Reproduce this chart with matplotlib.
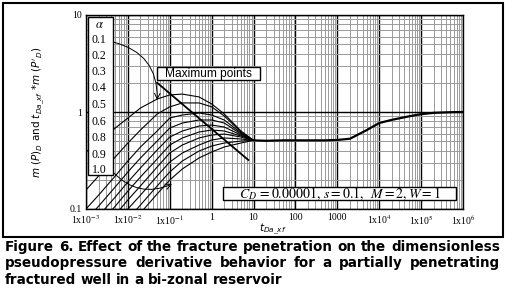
import numpy as np
import matplotlib.pyplot as plt
from matplotlib.patches import Rectangle
from matplotlib.ticker import LogLocator, NullFormatter

W, H = 506, 295  # output size in pixels

# early time grid shared by all the alpha curves
t_early = [1e-3, 2e-3, 5e-3, 1e-2, 2e-2, 5e-2, 0.1, 0.2, 0.5, 1, 2, 5, 10]

# dimensionless pseudopressure derivative, one list per fracture penetration (top to bottom)
d_a01 = [0.387, 0.491, 0.684, 0.867, 1.10, 1.36, 1.50, 1.53, 1.43, 1.21, 0.954, 0.637, 0.51]
d_a02 = [0.157, 0.219, 0.344, 0.479, 0.652, 0.954, 1.13, 1.24, 1.24, 1.13, 0.909, 0.622, 0.51]
d_a03 = [0.100, 0.139, 0.219, 0.313, 0.436, 0.637, 0.867, 0.931, 0.977, 0.931, 0.827, 0.607, 0.51]
d_a04 = [0.077, 0.107, 0.169, 0.241, 0.336, 0.502, 0.684, 0.770, 0.827, 0.827, 0.770, 0.593, 0.51]
d_a05 = [0.061, 0.0847, 0.133, 0.190, 0.265, 0.406, 0.552, 0.637, 0.717, 0.734, 0.700, 0.579, 0.51]
d_a06 = [0.048, 0.068, 0.107, 0.153, 0.214, 0.328, 0.457, 0.540, 0.622, 0.652, 0.637, 0.566, 0.51]
d_a07 = [0.0396, 0.0552, 0.0867, 0.124, 0.173, 0.271, 0.378, 0.457, 0.540, 0.579, 0.593, 0.552, 0.51]
d_a08 = [0.031, 0.044, 0.070, 0.100, 0.139, 0.219, 0.305, 0.378, 0.457, 0.514, 0.540, 0.527, 0.51]
d_a09 = [0.025, 0.035, 0.0552, 0.0788, 0.110, 0.173, 0.241, 0.313, 0.396, 0.446, 0.479, 0.502, 0.51]
d_a10 = [0.020, 0.028, 0.044, 0.0637, 0.091, 0.143, 0.199, 0.259, 0.336, 0.387, 0.436, 0.479, 0.51]
curves = [d_a01, d_a02, d_a03, d_a04, d_a05, d_a06, d_a07, d_a08, d_a09, d_a10]

# late time, all curves merged
t_late = [10, 20, 50, 100, 200, 500, 1000, 2000, 5000, 1e4, 2e4, 5e4, 1e5, 2e5, 5e5, 1e6]
d_late = [0.51, 0.505, 0.51, 0.51, 0.51, 0.51, 0.515, 0.53, 0.65, 0.77, 0.83, 0.90, 0.95, 0.98, 0.995, 1.0]

# straight line through the maximum points
max_t = [0.05, 7.5]
max_d = [2.0, 0.32]

alpha_labels = ['0.1', '0.2', '0.3', '0.4', '0.5', '0.6', '0.8', '0.9', '1.0']
x_ticks = [1e-3, 1e-2, 1e-1, 1, 10, 100, 1000, 1e4, 1e5, 1e6]
x_ticklabels = [r'1x10$^{-3}$', r'1x10$^{-2}$', r'1x10$^{-1}$', '1', '10', '100', '1000',
                r'1x10$^{4}$', r'1x10$^{5}$', r'1x10$^{6}$']
y_ticks = [0.1, 1, 10]
y_ticklabels = ['0.1', '1', '10']

caption = ["Figure 6. Effect of the fracture penetration on the dimensionless",
           "pseudopressure derivative behavior for a partially penetrating",
           "fractured well in a bi-zonal reservoir"]

plt.rcParams['mathtext.fontset'] = 'stix'

fig = plt.figure(figsize=(W / 100, H / 100), dpi=100)

def fx(px):
    return px / W

def fy(py):
    return 1 - py / H

ax = fig.add_axes([fx(86), fy(209), fx(463) - fx(86), fy(15) - fy(209)])
ax.set_xscale('log')
ax.set_yscale('log')
ax.set_xlim(1e-3, 1e6)
ax.set_ylim(0.1, 10)

ax.xaxis.set_minor_locator(LogLocator(base=10, subs=np.arange(2, 10), numticks=20))
ax.yaxis.set_minor_locator(LogLocator(base=10, subs=np.arange(2, 10), numticks=20))
ax.xaxis.set_minor_formatter(NullFormatter())
ax.yaxis.set_minor_formatter(NullFormatter())
ax.grid(which='minor', color='#9a9a9a', lw=0.7)
ax.grid(which='major', color='black', lw=1.0)
ax.set_axisbelow(True)

ax.set_xticks(x_ticks)
ax.set_xticklabels(x_ticklabels, fontfamily='Liberation Serif', fontsize=7)
ax.set_yticks(y_ticks)
ax.set_yticklabels(y_ticklabels, fontfamily='Liberation Serif', fontsize=7)
ax.tick_params(which='both', length=0, pad=3)
for s in ax.spines.values():
    s.set_linewidth(1.0)

for d in curves:
    ax.plot(t_early, d, color='black', lw=0.8)
ax.plot(t_late, d_late, color='black', lw=1.6)
ax.plot(max_t, max_d, color='black', lw=1.3)

# arrows from the alpha labels to their curves
ax.annotate('', xy=(0.05, 1.33), xytext=(0.0044, 5.27),
            arrowprops=dict(arrowstyle='->', color='black', lw=0.7,
                            connectionstyle='arc3,rad=-0.4', shrinkA=0, shrinkB=0))
ax.annotate('', xy=(0.113, 0.181), xytext=(0.0044, 0.24),
            arrowprops=dict(arrowstyle='->', color='black', lw=0.7,
                            connectionstyle='arc3,rad=0.35', shrinkA=0, shrinkB=0))

# alpha box
fig.add_artist(Rectangle((fx(88), fy(175)), fx(113) - fx(88), fy(17) - fy(175),
                         transform=fig.transFigure, facecolor='white',
                         edgecolor='black', lw=1.0, zorder=5))
fig.text(fx(99), fy(25), r'$\alpha$', fontsize=9, ha='center', va='center', zorder=6)
for lab, yy in zip(alpha_labels, [40, 56, 72, 88, 105, 122, 138, 155, 170]):
    fig.text(fx(99), fy(yy), lab, fontfamily='Liberation Serif', fontsize=8.5,
             ha='center', va='center', zorder=6)

# "Maximum points" box
fig.add_artist(Rectangle((fx(157), fy(80)), fx(260) - fx(157), fy(67) - fy(80),
                         transform=fig.transFigure, facecolor='white',
                         edgecolor='black', lw=1.0, zorder=5))
fig.text(fx(208.5), fy(73.5), 'Maximum points', fontfamily='Liberation Sans', fontsize=8.6,
         ha='center', va='center', zorder=6)

# parameter box
fig.add_artist(Rectangle((fx(223), fy(200)), fx(456) - fx(223), fy(187) - fy(200),
                         transform=fig.transFigure, facecolor='white',
                         edgecolor='black', lw=1.0, zorder=5))
fig.text(fx(339.5), fy(193.5), r'$C_D\,=0.00001,\,s=0.1,\;\;M=2,W=1$', fontsize=10,
         ha='center', va='center', zorder=6)

# axis labels
fig.text(fx(38), fy(112), r"$m\ (P)_D$ and $t_{Da\_xf}$ *$m\ (P'_D)$",
         math_fontfamily='dejavusans', fontsize=7.5, rotation=90, ha='center', va='center')
fig.text(fx(273), fy(229), r'$t_{Da\_xf}$', math_fontfamily='dejavusans', fontsize=7.5,
         ha='center', va='center')

# outer frame
fig.add_artist(Rectangle((fx(3), fy(237)), fx(503) - fx(3), fy(3) - fy(237),
                         transform=fig.transFigure, facecolor='none',
                         edgecolor='black', lw=1.5, zorder=4))

# justified caption, placed word by word
fig.canvas.draw()
renderer = fig.canvas.get_renderer()

def word_widths(words, size):
    arts = [fig.text(0, 0, w, fontfamily='DejaVu Sans', fontweight='bold',
                     fontsize=size) for w in words]
    widths = [a.get_window_extent(renderer).width for a in arts]
    for a in arts:
        a.remove()
    return widths

# pick the size that makes the first line fill the width with ordinary spaces
probe = caption[0].split()
base = sum(word_widths(probe, 10)) + (len(probe) - 1) * 10 * 100 / 72 * 0.32
cap_size = 10 * 493 / base

def put_line(line, ypix, x0, x1, justify):
    words = line.split()
    widths = word_widths(words, cap_size)
    if justify:
        gap = (x1 - x0 - sum(widths)) / (len(words) - 1)
    else:
        gap = cap_size * 100 / 72 * 0.32
    x = x0
    for w, ww in zip(words, widths):
        fig.text(fx(x), fy(ypix), w, fontfamily='DejaVu Sans', fontweight='bold',
                 fontsize=cap_size, va='center', ha='left')
        x += ww + gap

put_line(caption[0], 247, 5, 500, True)
put_line(caption[1], 263, 5, 500, True)
put_line(caption[2], 280, 5, 500, False)

fig.savefig('out.png', dpi=100)
